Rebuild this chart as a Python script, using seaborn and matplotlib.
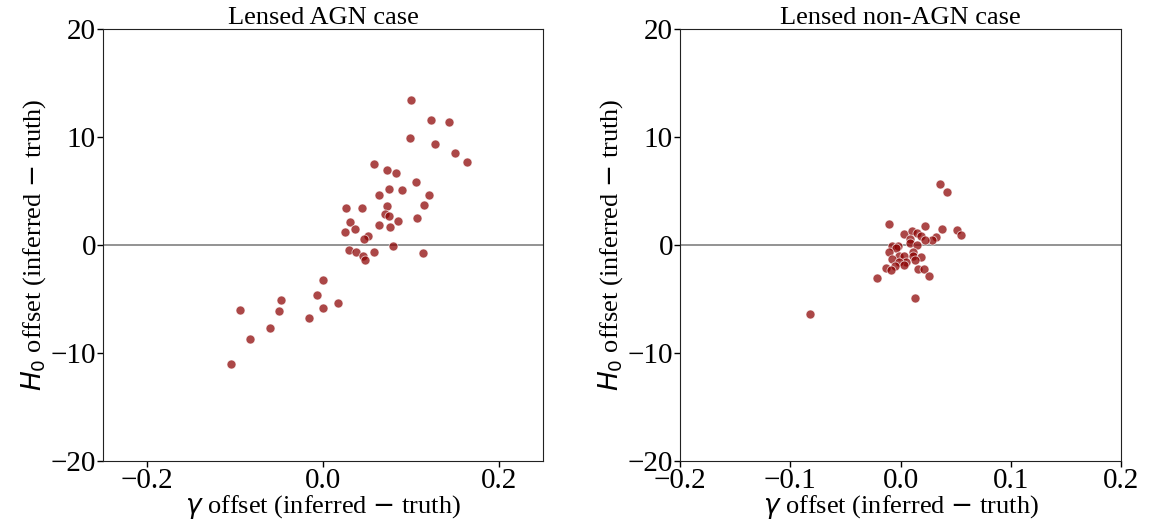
import numpy as np
import pandas as pd
import matplotlib
matplotlib.use("Agg")
import matplotlib.pyplot as plt
import seaborn as sns

# gamma offset / H0 offset, lensed AGN case
agn_gamma = [0.0995, 0.123, 0.143, 0.099, 0.1276, 0.150, 0.1637, 0.0577, 0.0726, 0.0824,
             0.1056, 0.0752, 0.090, 0.0638, 0.1208, 0.1143, 0.0266, 0.0441, 0.0722, 0.0703,
             0.0748, 0.1064, 0.0308, 0.0851, 0.0638, 0.0369, 0.0767, 0.0254, 0.0517, 0.0471,
             0.079, 0.030, 0.0376, 0.046, 0.0479, 0.0585, 0.1132, -0.0004, -0.0065, -0.0475,
             0.0175, 0.0, -0.0946, -0.0505, -0.0156, -0.0604, -0.0832, -0.104]
agn_h0 = [13.45, 11.57, 11.42, 9.94, 9.38, 8.55, 7.65, 7.5, 6.94, 6.67,
          5.86, 5.19, 5.09, 4.6, 4.63, 3.7, 3.46, 3.46, 3.64, 2.9,
          2.71, 2.53, 2.1, 2.19, 1.85, 1.51, 1.67, 1.23, 0.8, 0.52,
          -0.06, -0.49, -0.68, -0.99, -1.39, -0.65, -0.77, -3.24, -4.6, -5.12,
          -5.37, -5.8, -5.99, -6.11, -6.79, -7.72, -8.7, -11.02]

# lensed non-AGN case
non_gamma = [0.036, 0.0424, -0.010, 0.022, 0.0375, 0.051, 0.0545, 0.0034, 0.0103, 0.0154,
             0.0188, 0.0318, 0.0288, 0.0218, 0.0085, 0.0082, 0.0154, -0.0073, -0.0021, -0.0045,
             -0.010, 0.0112, -0.0015, 0.003, 0.0112, 0.0184, -0.0075, 0.0136, 0.0048, -0.0015,
             0.003, -0.0054, -0.0133, -0.0082, 0.0157, 0.0212, 0.0257, -0.0212, 0.0136, -0.0817]
non_h0 = [5.65, 4.9, 1.97, 1.79, 1.51, 1.36, 0.93, 1.05, 1.27, 1.08,
          0.86, 0.77, 0.46, 0.46, 0.53, 0.16, -0.03, -0.09, -0.12, -0.25,
          -0.62, -0.62, -1.02, -1.02, -1.02, -1.08, -1.27, -1.39, -1.54, -1.57,
          -1.85, -1.97, -2.1, -2.31, -2.25, -2.22, -2.84, -3.06, -4.94, -6.42]

sns.set_style("ticks")
plt.rcParams["font.family"] = ["Liberation Serif", "DejaVu Serif"]
plt.rcParams["mathtext.fontset"] = "dejavusans"
plt.rcParams["axes.unicode_minus"] = True
plt.rcParams["text.color"] = "black"
plt.rcParams["axes.labelcolor"] = "black"
plt.rcParams["xtick.color"] = "black"
plt.rcParams["ytick.color"] = "black"

W, H = 1150, 531
fig = plt.figure(figsize=(W / 100, H / 100), dpi=100)
ax1 = fig.add_axes([103 / W, (H - 461) / H, 440 / W, 432 / H])
ax2 = fig.add_axes([680 / W, (H - 461) / H, 441 / W, 432 / H])

panels = [
    (ax1, agn_gamma, agn_h0, "Lensed AGN case", (-0.25, 0.25), [-0.2, 0.0, 0.2]),
    (ax2, non_gamma, non_h0, "Lensed non-AGN case", (-0.2, 0.2), [-0.2, -0.1, 0.0, 0.1, 0.2]),
]

for ax, g, h, title, xlim, xticks in panels:
    df = pd.DataFrame({"gamma": g, "h0": h})
    ax.axhline(0, color="gray", lw=1.2, zorder=1)
    sns.scatterplot(data=df, x="gamma", y="h0", ax=ax, color="#8b0000", alpha=0.72,
                    s=42, edgecolor="white", linewidth=0.6, zorder=3)
    ax.set_xlim(*xlim)
    ax.set_ylim(-20, 20)
    ax.set_xticks(xticks)
    ax.set_yticks([-20, -10, 0, 10, 20])
    ax.tick_params(labelsize=21, length=4, width=1, pad=1)
    ax.set_title(title, fontsize=19, pad=2)
    ax.set_xlabel(r"$\gamma$ offset (inferred $-$ truth)", fontsize=19, labelpad=-1)
    ax.set_ylabel(r"$H_0$ offset (inferred $-$ truth)", fontsize=19, labelpad=2)
    for sp in ax.spines.values():
        sp.set_visible(True)
        sp.set_linewidth(0.8)
        sp.set_color("#222222")

fig.savefig("out.png", dpi=100)
